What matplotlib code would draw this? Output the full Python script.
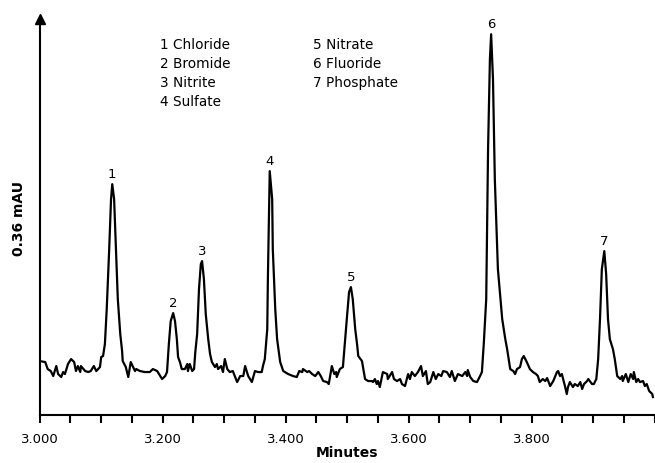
import numpy as np
import matplotlib.pyplot as plt
from matplotlib.ticker import MultipleLocator, FormatStrFormatter

# retention time (minutes) and detector signal (arbitrary units)
minutes = [
    3.000, 3.009, 3.013, 3.018, 3.022, 3.027, 3.030, 3.035, 3.038, 3.041,
    3.046, 3.051, 3.056, 3.059, 3.062, 3.066, 3.067, 3.074, 3.079, 3.083,
    3.088, 3.092, 3.098, 3.100, 3.103, 3.106, 3.109, 3.113, 3.116, 3.118,
    3.121, 3.124, 3.127, 3.131, 3.134, 3.135, 3.140, 3.144, 3.148, 3.155,
    3.157, 3.163, 3.171, 3.179, 3.184, 3.191, 3.196, 3.199, 3.204, 3.207,
    3.210, 3.213, 3.217, 3.220, 3.223, 3.225, 3.228, 3.231, 3.236, 3.240,
    3.241, 3.244, 3.248, 3.251, 3.253, 3.256, 3.259, 3.262, 3.264, 3.267,
    3.270, 3.274, 3.277, 3.280, 3.285, 3.288, 3.290, 3.295, 3.298, 3.301,
    3.305, 3.309, 3.314, 3.321, 3.326, 3.331, 3.334, 3.339, 3.345, 3.350,
    3.355, 3.361, 3.363, 3.366, 3.370, 3.371, 3.373, 3.374, 3.378, 3.379,
    3.383, 3.386, 3.391, 3.396, 3.404, 3.412, 3.418, 3.422, 3.427, 3.428,
    3.435, 3.438, 3.443, 3.448, 3.453, 3.457, 3.461, 3.467, 3.470, 3.475,
    3.479, 3.482, 3.483, 3.488, 3.493, 3.496, 3.500, 3.503, 3.506, 3.509,
    3.513, 3.516, 3.518, 3.524, 3.529, 3.534, 3.540, 3.542, 3.545, 3.548,
    3.550, 3.553, 3.558, 3.565, 3.566, 3.573, 3.576, 3.581, 3.586, 3.589,
    3.594, 3.599, 3.602, 3.605, 3.610, 3.615, 3.620, 3.623, 3.628, 3.631,
    3.635, 3.640, 3.644, 3.648, 3.653, 3.656, 3.662, 3.667, 3.670, 3.675,
    3.680, 3.687, 3.692, 3.695, 3.696, 3.700, 3.705, 3.711, 3.716, 3.719,
    3.722, 3.726, 3.729, 3.732, 3.734, 3.737, 3.740, 3.745, 3.752, 3.757,
    3.760, 3.765, 3.770, 3.773, 3.776, 3.781, 3.784, 3.787, 3.792, 3.797,
    3.802, 3.807, 3.810, 3.813, 3.818, 3.822, 3.825, 3.830, 3.835, 3.841,
    3.843, 3.846, 3.849, 3.854, 3.857, 3.859, 3.862, 3.867, 3.870, 3.875,
    3.879, 3.882, 3.885, 3.890, 3.892, 3.898, 3.901, 3.905, 3.908, 3.911,
    3.914, 3.918, 3.921, 3.924, 3.927, 3.932, 3.935, 3.939, 3.944, 3.947,
    3.948, 3.953, 3.957, 3.961, 3.965, 3.966, 3.970, 3.973, 3.976, 3.981,
    3.984, 3.987, 3.991, 3.996, 3.997,
]
signal = [
    54, 53, 46, 44, 39, 49, 41, 38, 43, 41,
    51, 56, 53, 44, 49, 43, 49, 44, 43, 44,
    49, 44, 48, 58, 59, 71, 106, 166, 216, 231,
    216, 166, 116, 81, 64, 54, 48, 38, 53, 44,
    46, 44, 43, 43, 46, 44, 39, 36, 39, 43,
    71, 94, 102, 94, 76, 58, 53, 46, 46, 51,
    44, 51, 44, 46, 63, 81, 126, 151, 154, 136,
    101, 76, 61, 53, 48, 51, 46, 49, 43, 56,
    46, 43, 44, 33, 39, 39, 49, 39, 33, 44,
    43, 43, 49, 56, 86, 136, 206, 244, 216, 166,
    106, 76, 53, 44, 41, 39, 38, 44, 43, 46,
    43, 44, 41, 39, 43, 39, 34, 33, 31, 49,
    41, 43, 38, 46, 48, 71, 101, 123, 128, 116,
    86, 71, 59, 54, 36, 34, 34, 33, 36, 31,
    34, 28, 43, 41, 36, 43, 36, 34, 36, 31,
    29, 41, 36, 43, 39, 43, 49, 39, 44, 31,
    33, 43, 36, 41, 39, 44, 43, 38, 44, 34,
    41, 39, 43, 39, 45, 38, 34, 33, 39, 43,
    71, 116, 266, 356, 381, 336, 236, 146, 96, 76,
    66, 46, 44, 41, 46, 48, 56, 59, 53, 46,
    43, 41, 39, 33, 36, 34, 37, 29, 34, 43,
    44, 39, 41, 29, 21, 28, 33, 28, 31, 29,
    33, 26, 31, 34, 36, 31, 31, 36, 56, 96,
    146, 164, 141, 96, 76, 66, 56, 39, 36, 39,
    34, 41, 33, 41, 36, 43, 33, 36, 33, 34,
    29, 31, 24, 21, 18,
]

peak_numbers = ["1", "2", "3", "4", "5", "6", "7"]
peak_times = [3.118, 3.217, 3.264, 3.374, 3.506, 3.734, 3.918]
peak_heights = [231, 102, 154, 244, 128, 381, 164]
compounds = ["Chloride", "Bromide", "Nitrite", "Sulfate",
             "Nitrate", "Fluoride", "Phosphate"]

fig = plt.figure(figsize=(6.55, 4.64), dpi=100)
ax = fig.add_axes([0.0606, 0.1034, 0.939, 0.853])

ax.plot(minutes, signal, color="black", lw=1.6)

ax.set_xlim(3.0, 4.0)
ax.set_ylim(0, 396)

for side in ["top", "right"]:
    ax.spines[side].set_visible(False)
for side in ["left", "bottom"]:
    ax.spines[side].set_linewidth(1.5)

# arrow head on the y axis
ax.plot(0, 1, marker="^", color="black", markersize=7,
        transform=ax.transAxes, clip_on=False)

ax.set_yticks([])
ax.xaxis.set_major_locator(MultipleLocator(0.2))
ax.xaxis.set_minor_locator(MultipleLocator(0.05))
ax.xaxis.set_major_formatter(FormatStrFormatter("%.3f"))
ax.set_xticks([3.0, 3.2, 3.4, 3.6, 3.8])
ax.tick_params(axis="x", which="both", direction="out", length=6, width=1.5,
               labelsize=9.5, pad=6)

ax.set_xlabel("Minutes", fontsize=10, fontweight="bold", labelpad=0)
ax.set_ylabel("0.36 mAU", fontsize=10, fontweight="bold", labelpad=10)

for num, t, h in zip(peak_numbers, peak_times, peak_heights):
    ax.annotate(num, (t, h), xytext=(0, 3), textcoords="offset points",
                ha="center", va="bottom", fontsize=9.5)

# compound list in two columns
for i, (num, name) in enumerate(zip(peak_numbers, compounds)):
    col, row = divmod(i, 4)
    ax.text(0.196 + 0.248 * col, 0.937 - 0.048 * row, f"{num} {name}",
            transform=ax.transAxes, ha="left", va="center", fontsize=9.8)

fig.savefig("out.png", dpi=100)
